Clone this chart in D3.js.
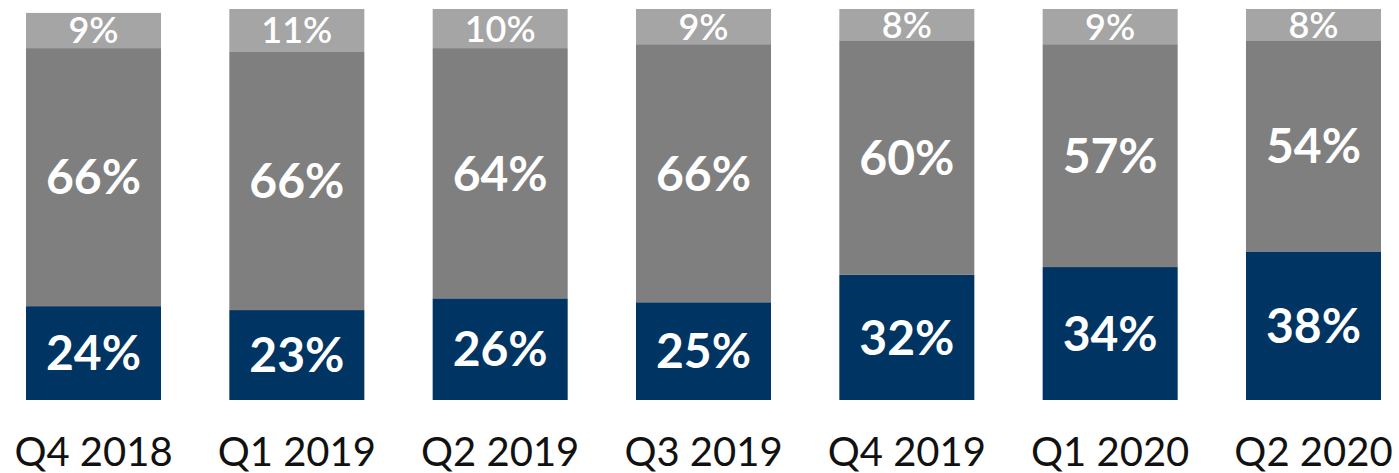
<!DOCTYPE html>
<html lang="en">
<head>
    <meta charset="UTF-8">
    <script src="https://d3js.org/d3.v7.min.js"></script>
    <title>Quarterly share</title>
    <style>
        body { margin: 0; background: white; }
        text { font-family: Lato, "Noto Sans", sans-serif; }
    </style>
</head>
<body>
<script>
    // data
    var quarters = ["Q4 2018", "Q1 2019", "Q2 2019", "Q3 2019", "Q4 2019", "Q1 2020", "Q2 2020"];
    var bottomShare = [24, 23, 26, 25, 32, 34, 38];
    var middleShare = [66, 66, 64, 66, 60, 57, 54];
    var topShare = [9, 11, 10, 9, 8, 9, 8];

    var keys = ["bottom", "middle", "top"];
    var colors = {bottom: "#003462", middle: "#7f7f7f", top: "#a5a5a5"};
    var labelSize = {bottom: 48, middle: 48, top: 36};
    var labelWeight = {bottom: "bold", middle: "bold", top: "600"};

    var canvasWidth = 1399;
    var canvasHeight = 473;

    var rows = quarters.map(function(q, i) {
        return {quarter: q, bottom: bottomShare[i], middle: middleShare[i], top: topShare[i]};
    });

    var svg = d3.select("body").append("svg")
        .attr("width", canvasWidth)
        .attr("height", canvasHeight);

    var xScale = d3.scaleBand().domain(quarters).range([26, 1381]).paddingInner(0.336).paddingOuter(0);
    var yScale = d3.scaleLinear().domain([0, 100]).range([400, 9]);

    var series = d3.stack().keys(keys)(rows);

    var layers = svg.selectAll(".layer").data(series).enter().append("g")
        .attr("class", "layer")
        .attr("fill", function(d) { return colors[d.key]; });

    layers.selectAll("rect").data(function(d) { return d; }).enter().append("rect")
        .attr("x", function(d) { return xScale(d.data.quarter); })
        .attr("y", function(d) { return yScale(d[1]); })
        .attr("width", xScale.bandwidth())
        .attr("height", function(d) { return yScale(d[0]) - yScale(d[1]); });

    // value labels centred in each segment
    series.forEach(function(s) {
        svg.append("g").selectAll("text").data(s).enter().append("text")
            .attr("x", function(d) { return xScale(d.data.quarter) + xScale.bandwidth() / 2; })
            .attr("y", function(d) { return (yScale(d[0]) + yScale(d[1])) / 2; })
            .attr("dy", "0.36em")
            .attr("text-anchor", "middle")
            .attr("fill", "white")
            .attr("font-size", labelSize[s.key])
            .attr("font-weight", labelWeight[s.key])
            .text(function(d) { return d.data[s.key] + "%"; });
    });

    // category axis
    var xAxis = svg.append("g")
        .attr("transform", "translate(0, 400)")
        .call(d3.axisBottom(xScale).tickSize(0).tickPadding(0));
    xAxis.select(".domain").remove();
    xAxis.selectAll("text")
        .attr("y", 66)
        .attr("dy", 0)
        .attr("font-size", 40)
        .attr("font-family", "Lato, 'Noto Sans', sans-serif")
        .attr("fill", "#111");
</script>
</body>
</html>
